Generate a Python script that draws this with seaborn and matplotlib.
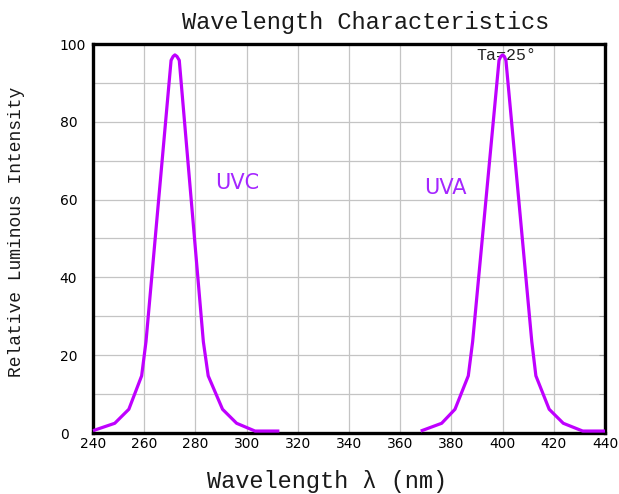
import matplotlib
matplotlib.use("Agg")
import matplotlib.pyplot as plt
import seaborn as sns
from matplotlib.ticker import MultipleLocator

# -----------------------------
# Data
# -----------------------------
uvc_nm = [240, 248.5, 254, 259, 260.7, 270.5, 271.3, 272, 272.8, 273.7,
          283.1, 285, 290.6, 296.1, 303.3, 312.8]
uvc_val = [0.6, 2.5, 6.1, 14.7, 23.5, 95.8, 96.8, 97.2, 96.8, 95.8,
           23.5, 14.7, 6.1, 2.5, 0.5, 0.5]

uva_nm = [368, 376.2, 381.4, 386.6, 388.3, 398.6, 399.3, 400, 400.7, 401.3,
          411.4, 413, 418.2, 423.7, 431.3, 440]
uva_val = [0.5, 2.5, 6.1, 14.7, 23.5, 95.8, 96.8, 97.2, 96.8, 95.8,
           23.5, 14.7, 6.1, 2.5, 0.5, 0.5]

x_ticks = [240, 260, 280, 300, 320, 340, 360, 380, 400, 420, 440]
y_ticks = [0, 20, 40, 60, 80, 100]

line_color = "#BF00FF"
label_color = "#A526FF"
mono = "Liberation Mono"

sns.set_style("white")
plt.rcParams["font.family"] = ["DejaVu Sans"]

fig = plt.figure(figsize=(6.19, 4.94), dpi=100)
ax = fig.add_axes([93 / 619, 61 / 494, 512 / 619, 389 / 494])

# -----------------------------
# Curves
# -----------------------------
for xs, ys in [(uvc_nm, uvc_val), (uva_nm, uva_val)]:
    sns.lineplot(x=xs, y=ys, sort=False, color=line_color, linewidth=2.3,
                 ax=ax, zorder=3, clip_on=False,
                 solid_joinstyle="round", solid_capstyle="butt")

ax.set_xlim(240, 440)
ax.set_ylim(0, 100)
ax.set_xticks(x_ticks)
ax.set_yticks(y_ticks)
ax.yaxis.set_minor_locator(MultipleLocator(10))

ax.grid(True, which="both", color="#c4c4c4", linewidth=0.9)
ax.set_axisbelow(True)

for s in ax.spines.values():
    s.set_visible(True)
    s.set_color("black")
    s.set_linewidth(2.4)

ax.tick_params(axis="x", length=0, pad=3, labelsize=10, labelcolor="black")
ax.tick_params(axis="y", which="both", left=False, right=True,
               direction="in", length=4, color="#999999",
               labelsize=10, pad=24, labelcolor="black")
for lab in ax.get_yticklabels():
    lab.set_horizontalalignment("left")

# -----------------------------
# Text
# -----------------------------
ax.set_title("Wavelength Characteristics", family=mono, fontsize=17,
             x=0.532, pad=11, color="#1a1a1a")
ax.set_xlabel("Wavelength λ (nm)", family=mono, fontsize=17, color="#1a1a1a")
ax.xaxis.set_label_coords(0.458, -0.095)
ax.set_ylabel("Relative Luminous Intensity", family=mono, fontsize=13,
              va="center", color="#1a1a1a")
ax.yaxis.set_label_coords(-0.150, 0.517)

ax.text(296.5, 64.3, "UVC", color=label_color, fontsize=15,
        ha="center", va="center")
ax.text(377.5, 63, "UVA", color=label_color, fontsize=15,
        ha="center", va="center")
ax.text(401.5, 97, "Ta=25°", family=mono, fontsize=12, color="#222222",
        ha="center", va="center", zorder=2)

fig.savefig("out.png", dpi=100)
